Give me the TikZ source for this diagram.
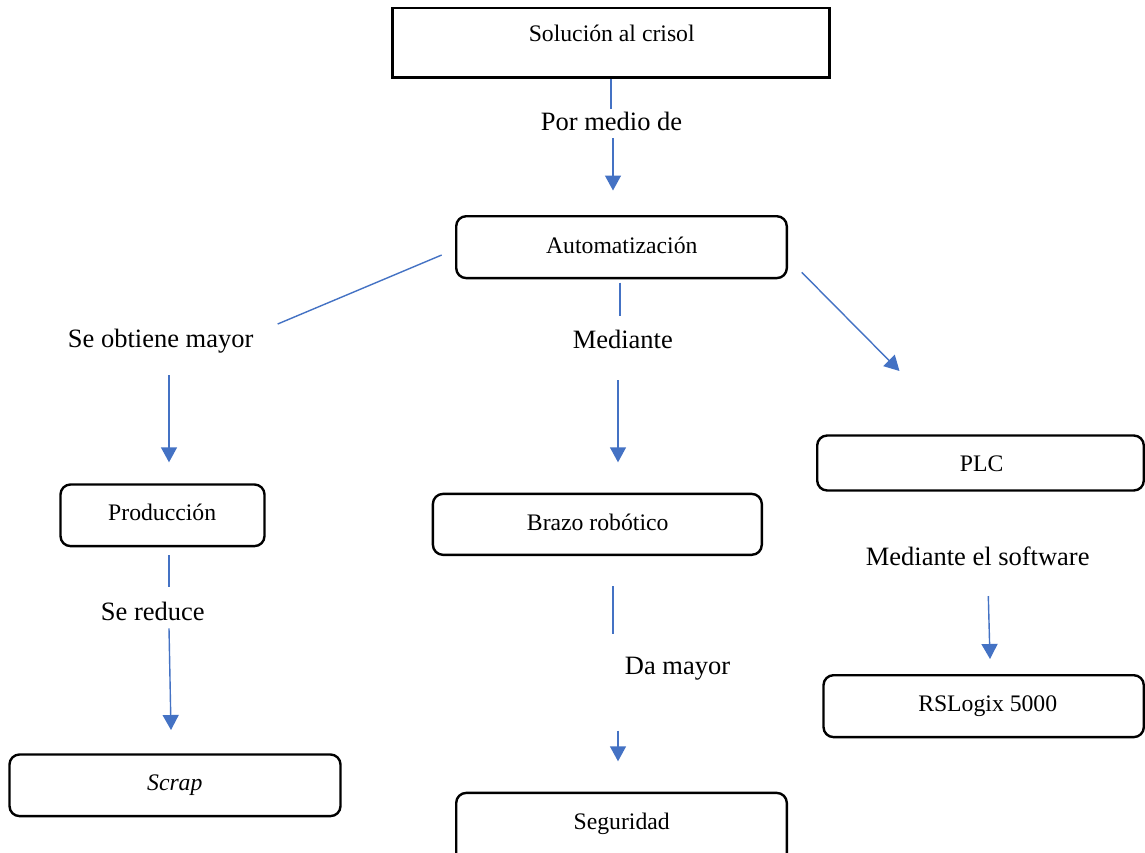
\documentclass[tikz,border=0pt]{standalone}
\usepackage{fontspec}
\setmainfont{Liberation Serif}
\usetikzlibrary{arrows.meta}
\definecolor{arrowblue}{HTML}{4472C4}
\begin{document}
\begin{tikzpicture}[x=1pt,y=-1pt,
  roundbox/.style={draw=black, line width=2.4pt, rounded corners=10pt, inner sep=0pt},
  sqbox/.style={draw=black, line width=2.7pt, inner sep=0pt},
  boxtext/.style={font=\fontsize{23.7}{28}\selectfont, inner sep=0pt, anchor=base},
  lab/.style={font=\fontsize{26.5}{31}\selectfont, inner sep=0pt, anchor=base},
  conn/.style={draw=arrowblue, line width=1.4pt},
  arr/.style={conn, -{Triangle[length=15pt,width=16pt]}}]
\clip (0,0) rectangle (1145,852);
\fill[white] (0,0) rectangle (1145,852);

% boxes
\draw[sqbox] (392.3,8) rectangle (829.7,77.7);
\node[minimum width=437pt, minimum height=70pt, inner sep=0pt] (sol) at (611,42.8) {};
\draw[roundbox] (456.2,216.2) rectangle (786.8,278.1);
\node[minimum width=330pt, minimum height=62pt, inner sep=0pt] (auto) at (621.5,247.2) {};
\draw[roundbox] (60.5,484.5) rectangle (264.5,546.1);
\node[minimum width=204pt, minimum height=62pt, inner sep=0pt] (prod) at (162.5,515.3) {};
\draw[roundbox] (9.5,754.5) rectangle (340.5,816.1);
\node[minimum width=331pt, minimum height=62pt, inner sep=0pt] (scrap) at (175,785.3) {};
\draw[roundbox] (432.9,493.9) rectangle (761.8,554.8);
\node[minimum width=329pt, minimum height=61pt, inner sep=0pt] (brazo) at (597.4,524.4) {};
\draw[roundbox] (456.2,792.9) rectangle (786.8,870);
\node[minimum width=330pt, minimum height=60pt, inner sep=0pt] (segur) at (621.5,822) {};
\draw[roundbox] (817.2,435.5) rectangle (1143.8,490.5);
\node[minimum width=326pt, minimum height=55pt, inner sep=0pt] (plc) at (980.5,463) {};
\draw[roundbox] (823.5,675.2) rectangle (1143.8,737.1);
\node[minimum width=320pt, minimum height=62pt, inner sep=0pt] (rslogix) at (983.6,706.1) {};

% box texts
\node[boxtext] (solT) at (611.7,41.7) {Solución al crisol};
\node[boxtext] (autoT) at (621.8,253.3) {Automatización};
\node[boxtext] (prodT) at (162.2,520) {Producción};
\node[boxtext] (scrapT) at (174.8,790) {\itshape Scrap};
\node[boxtext] (brazoT) at (597.7,530) {Brazo robótico};
\node[boxtext] (segurT) at (621.7,829.5) {Seguridad};
\node[boxtext] (plcT) at (981.7,471.7) {PLC};
\node[boxtext] (rslogixT) at (987.7,711.7) {RSLogix 5000};

% connector labels
\node[lab] (pormedio) at (611.5,130) {Por medio de};
\node[lab] (obtiene) at (160.7,347.7) {Se obtiene mayor};
\node[lab] (mediante) at (622.8,348) {Mediante};
\node[lab] (reduce) at (152.8,620) {Se reduce};
\node[lab] (damayor) at (677.5,674) {Da mayor};
\node[lab] (software) at (977.7,565) {Mediante el software};

% connector end points
\coordinate (c1a) at (611,79);     \coordinate (c1b) at (611,109);
\coordinate (c2a) at (613,138.3);  \coordinate (c2b) at (613,190.5);
\coordinate (c3a) at (441.7,255);  \coordinate (c3b) at (277.7,324);
\coordinate (c4a) at (169,375);    \coordinate (c4b) at (169,462.3);
\coordinate (c5a) at (620,282.7);  \coordinate (c5b) at (620,315.7);
\coordinate (c6a) at (618,380);    \coordinate (c6b) at (618,462.3);
\coordinate (c7a) at (801.7,272.3); \coordinate (c7b) at (899.5,371);
\coordinate (c8a) at (169,555);    \coordinate (c8b) at (169,587.3);
\coordinate (c9a) at (169,628.3);  \coordinate (c9b) at (171,730);
\coordinate (c10a) at (613,586);   \coordinate (c10b) at (613,634);
\coordinate (c11a) at (618,730.7); \coordinate (c11b) at (618,761.3);
\coordinate (c12a) at (988.3,596); \coordinate (c12b) at (990,659);

% connectors
\draw[conn] (c1a) -- (c1b);
\draw[arr] (c2a) -- (c2b);
\draw[conn] (c3a) -- (c3b);
\draw[arr] (c4a) -- (c4b);
\draw[conn] (c5a) -- (c5b);
\draw[arr] (c6a) -- (c6b);
\draw[arr] (c7a) -- (c7b);
\draw[conn] (c8a) -- (c8b);
\draw[arr] (c9a) -- (c9b);
\draw[conn] (c10a) -- (c10b);
\draw[arr] (c11a) -- (c11b);
\draw[arr] (c12a) -- (c12b);
\end{tikzpicture}
\end{document}
